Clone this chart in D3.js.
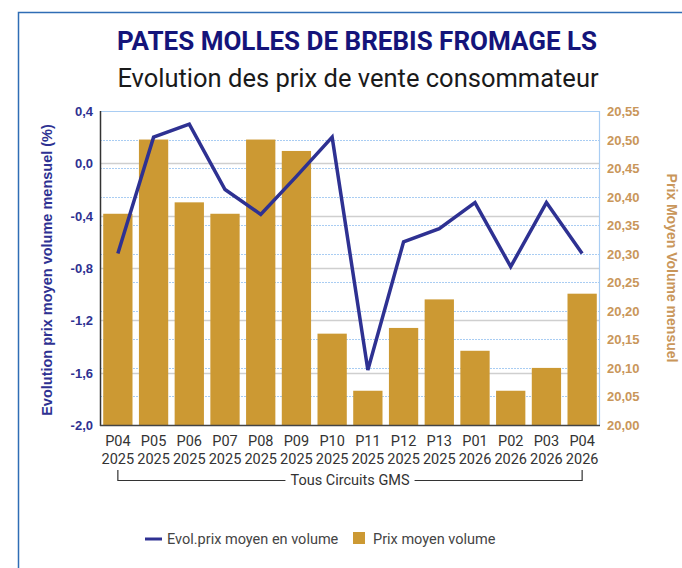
<!DOCTYPE html>
<html>
<head>
<meta charset="utf-8">
<script src="https://cdn.jsdelivr.net/npm/d3@7"></script>
<style>
body { margin: 0; background: #fff; }
svg { display: block; }
</style>
</head>
<body>
<div id="chart"></div>
<script>
var periods = ["P04", "P05", "P06", "P07", "P08", "P09", "P10", "P11", "P12", "P13", "P01", "P02", "P03", "P04"];
var years = ["2025", "2025", "2025", "2025", "2025", "2025", "2025", "2025", "2025", "2025", "2026", "2026", "2026", "2026"];
var evolValues = [-0.69, 0.20, 0.30, -0.20, -0.39, -0.10, 0.20, -1.58, -0.60, -0.50, -0.30, -0.79, -0.30, -0.69];
var prixValues = [20.37, 20.50, 20.39, 20.37, 20.50, 20.48, 20.16, 20.06, 20.17, 20.22, 20.13, 20.06, 20.10, 20.23];
var leftTicks = [0.4, 0.0, -0.4, -0.8, -1.2, -1.6, -2.0];
var rightTicks = [20.00, 20.05, 20.10, 20.15, 20.20, 20.25, 20.30, 20.35, 20.40, 20.45, 20.50, 20.55];

function drawChart(){
	var w = 682, h = 568;
	var pl = 100, pr = 600, pt = 111, pb = 425;
	var navy = "#2e3192", gold = "#cc9933", tan = "#c9965a";

	var svg = d3.select("#chart").append("svg")
		.attr("width", w)
		.attr("height", h);

	// frame
	svg.append("path")
		.attr("d", "M18.5," + h + "V12.5H" + w)
		.attr("fill", "none")
		.attr("stroke", "#2f6db5")
		.attr("stroke-width", 1.5);

	svg.append("text")
		.attr("x", 357).attr("y", 50)
		.attr("text-anchor", "middle")
		.style("font-family", "Roboto, sans-serif")
		.style("font-weight", "bold")
		.style("font-size", "26px")
		.style("fill", "#14147a")
		.text("PATES MOLLES DE BREBIS FROMAGE LS");

	svg.append("text")
		.attr("x", 358).attr("y", 87)
		.attr("text-anchor", "middle")
		.style("font-family", "Roboto, sans-serif")
		.style("font-size", "25.5px")
		.style("fill", "#1a1a1a")
		.text("Evolution des prix de vente consommateur");

	var x = d3.scaleBand()
		.domain(d3.range(periods.length))
		.range([pl, pr])
		.paddingInner(0.18)
		.paddingOuter(0.09);

	var yL = d3.scaleLinear().domain([-2.0, 0.4]).range([pb, pt]);
	var yR = d3.scaleLinear().domain([20.00, 20.55]).range([pb, pt]);

	// left grid (solid gray)
	svg.append("g")
		.selectAll("line")
		.data(leftTicks.slice(1, -1))
		.enter().append("line")
		.attr("x1", pl).attr("x2", pr)
		.attr("y1", function (d) { return Math.round(yL(d)) + 0.5; })
		.attr("y2", function (d) { return Math.round(yL(d)) + 0.5; })
		.attr("stroke", "#cfcfcf")
		.attr("stroke-width", 1.5);

	// right grid (dotted blue)
	svg.append("g")
		.selectAll("line")
		.data(rightTicks.slice(1))
		.enter().append("line")
		.attr("x1", pl).attr("x2", pr)
		.attr("y1", function (d) { return Math.round(yR(d)) + 0.5; })
		.attr("y2", function (d) { return Math.round(yR(d)) + 0.5; })
		.attr("stroke", "#a9cdf3")
		.attr("stroke-width", 1)
		.attr("stroke-dasharray", function (d, i) { return i == rightTicks.length - 2 ? null : "2,1"; });

	// bars
	svg.append("g")
		.selectAll("rect")
		.data(prixValues)
		.enter().append("rect")
		.attr("x", function (d, i) { return x(i); })
		.attr("y", function (d) { return yR(d); })
		.attr("width", x.bandwidth())
		.attr("height", function (d) { return pb - yR(d); })
		.style("fill", gold);

	// line
	var line = d3.line()
		.x(function (d, i) { return x(i) + x.bandwidth() / 2; })
		.y(function (d) { return yL(d); });

	svg.append("path")
		.datum(evolValues)
		.attr("d", line)
		.attr("fill", "none")
		.attr("stroke", navy)
		.attr("stroke-width", 3.5)
		.attr("stroke-linejoin", "miter");

	// axis lines
	svg.append("line")
		.attr("x1", pl + 0.5).attr("x2", pl + 0.5)
		.attr("y1", pt).attr("y2", pb + 1)
		.attr("stroke", "#333").attr("stroke-width", 1.5);
	svg.append("line")
		.attr("x1", pr - 0.5).attr("x2", pr - 0.5)
		.attr("y1", pt).attr("y2", pb)
		.attr("stroke", "#a9cdf3").attr("stroke-width", 1.2);
	svg.append("line")
		.attr("x1", pl).attr("x2", pr)
		.attr("y1", pb + 0.5).attr("y2", pb + 0.5)
		.attr("stroke", "#444").attr("stroke-width", 1.5);

	// left tick labels
	svg.append("g")
		.selectAll("text")
		.data(leftTicks)
		.enter().append("text")
		.attr("x", 93)
		.attr("y", function (d) { return yL(d) + 5; })
		.attr("text-anchor", "end")
		.style("font-family", "'Liberation Sans', Arial, sans-serif")
		.style("font-weight", "bold")
		.style("font-size", "13px")
		.style("fill", navy)
		.text(function (d) { return d3.format(".1f")(d).replace(".", ",").replace("−", "-"); });

	// right tick labels
	svg.append("g")
		.selectAll("text")
		.data(rightTicks)
		.enter().append("text")
		.attr("x", 607)
		.attr("y", function (d) { return yR(d) + 5; })
		.attr("text-anchor", "start")
		.style("font-family", "'Liberation Sans', Arial, sans-serif")
		.style("font-weight", "bold")
		.style("font-size", "13px")
		.style("fill", tan)
		.text(function (d) { return d3.format(".2f")(d).replace(".", ","); });

	// axis titles
	svg.append("text")
		.attr("transform", "translate(52,270) rotate(-90)")
		.attr("text-anchor", "middle")
		.style("font-family", "'Liberation Sans', Arial, sans-serif")
		.style("font-weight", "bold")
		.style("font-size", "14.5px")
		.style("fill", navy)
		.text("Evolution prix moyen volume mensuel (%)");

	svg.append("text")
		.attr("transform", "translate(667,268) rotate(90)")
		.attr("text-anchor", "middle")
		.style("font-family", "'Liberation Sans', Arial, sans-serif")
		.style("font-weight", "bold")
		.style("font-size", "14px")
		.style("fill", tan)
		.text("Prix Moyen Volume mensuel");

	// x labels
	var xl = svg.append("g")
		.selectAll("g")
		.data(periods)
		.enter().append("g");
	xl.append("text")
		.attr("x", function (d, i) { return x(i) + x.bandwidth() / 2; })
		.attr("y", 446)
		.attr("text-anchor", "middle")
		.style("font-family", "Roboto, sans-serif")
		.style("font-size", "14.5px")
		.style("fill", "#333")
		.text(String);
	xl.append("text")
		.attr("x", function (d, i) { return x(i) + x.bandwidth() / 2; })
		.attr("y", 464)
		.attr("text-anchor", "middle")
		.style("font-family", "Roboto, sans-serif")
		.style("font-size", "14.5px")
		.style("fill", "#333")
		.text(function (d, i) { return years[i]; });

	// group bracket
	var gx1 = x(0) + x.bandwidth() / 2, gx2 = x(periods.length - 1) + x.bandwidth() / 2;
	var mid = (gx1 + gx2) / 2;
	var gText = svg.append("text")
		.attr("x", mid)
		.attr("y", 485)
		.attr("text-anchor", "middle")
		.style("font-family", "Roboto, sans-serif")
		.style("font-size", "14.5px")
		.style("fill", "#333")
		.text("Tous Circuits GMS");
	var tw = gText.node().getComputedTextLength();
	svg.append("path")
		.attr("d", "M" + gx1 + ",470V480.5H" + (mid - tw / 2 - 5) + "M" + (mid + tw / 2 + 5) + ",480.5H" + gx2 + "V470")
		.attr("fill", "none")
		.attr("stroke", "#333")
		.attr("stroke-width", 1.2);

	// legend
	svg.append("line")
		.attr("x1", 145).attr("x2", 162)
		.attr("y1", 539).attr("y2", 539)
		.attr("stroke", navy).attr("stroke-width", 3);
	svg.append("text")
		.attr("x", 167).attr("y", 544)
		.style("font-family", "Roboto, sans-serif")
		.style("font-size", "14.5px")
		.style("fill", "#444")
		.text("Evol.prix moyen en volume");
	svg.append("rect")
		.attr("x", 353).attr("y", 532)
		.attr("width", 12).attr("height", 12)
		.style("fill", gold);
	svg.append("text")
		.attr("x", 373).attr("y", 544)
		.style("font-family", "Roboto, sans-serif")
		.style("font-size", "14.5px")
		.style("fill", "#444")
		.text("Prix moyen volume");
}

drawChart();
</script>
</body>
</html>
